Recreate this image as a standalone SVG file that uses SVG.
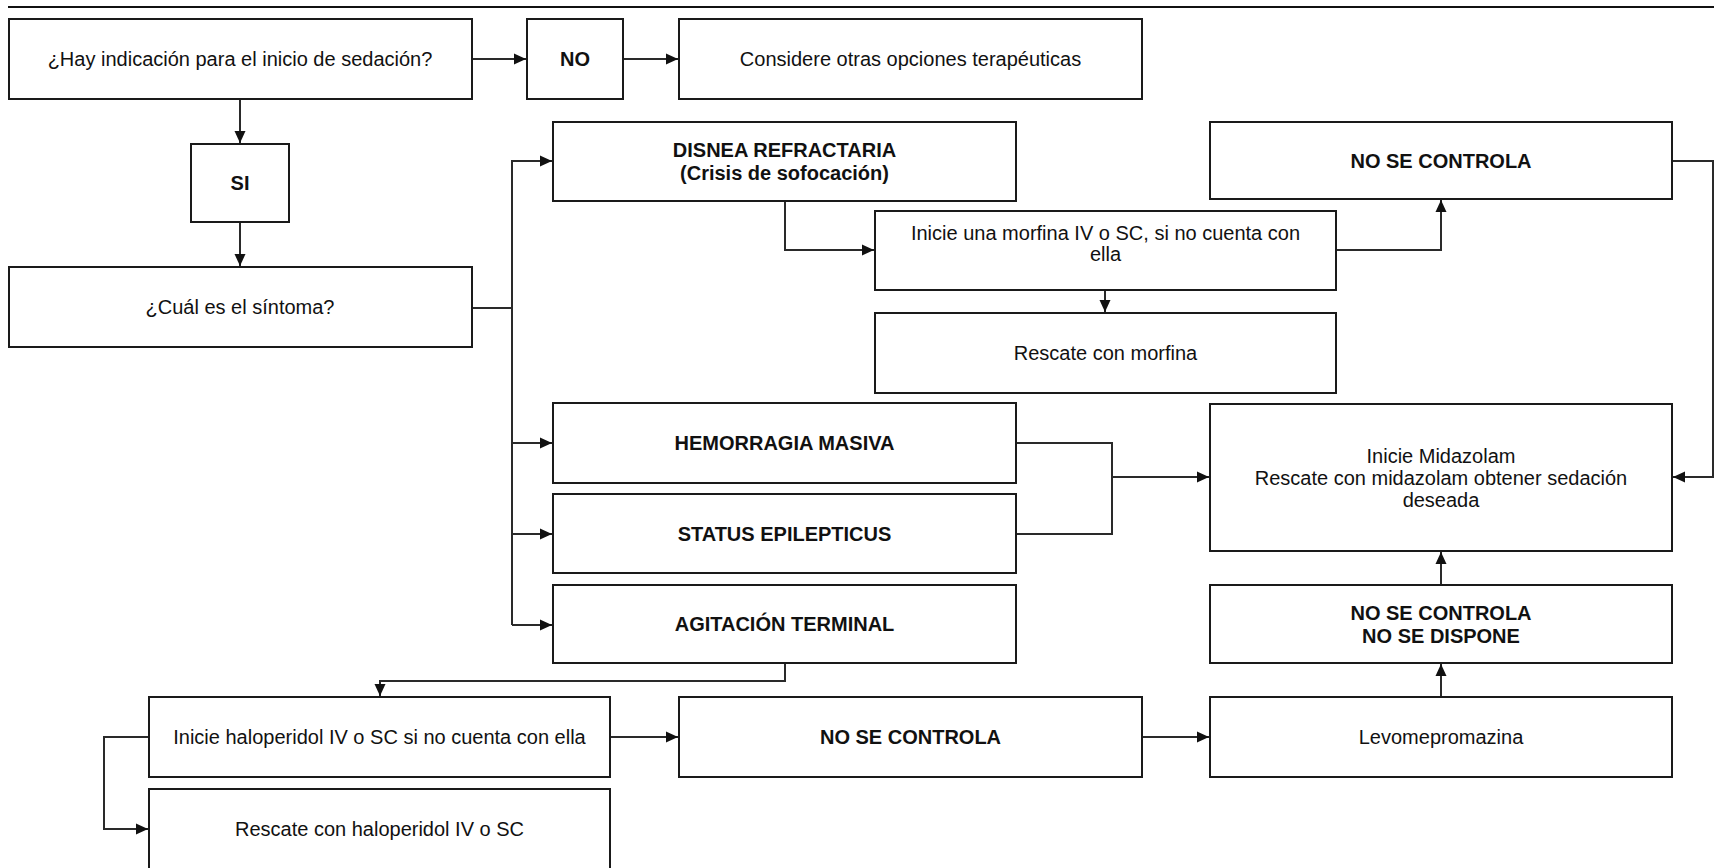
<svg xmlns="http://www.w3.org/2000/svg" width="1715" height="868" viewBox="0 0 1715 868">
<style>
  .box { fill: #ffffff; stroke: #1a1a1a; stroke-width: 2; }
  .t { font-family: "Liberation Sans", Arial, sans-serif; font-size: 20px; fill: #111; text-anchor: middle; }
  .b { font-weight: bold; }
  .c { fill: none; stroke: #2a2a2a; stroke-width: 2; }
</style>
<defs>
  <marker id="arr" markerWidth="13" markerHeight="12" refX="12" refY="6" orient="auto" markerUnits="userSpaceOnUse">
    <path d="M0,0.5 L12,6 L0,11.5 z" fill="#111"/>
  </marker>
</defs>
<rect width="1715" height="868" fill="#ffffff"/>
<line x1="8" y1="7" x2="1714" y2="7" stroke="#111" stroke-width="2"/>

<g id="connectors">
  <path class="c" d="M472,59 H526" marker-end="url(#arr)"/>
  <path class="c" d="M623,59 H678" marker-end="url(#arr)"/>
  <path class="c" d="M240,99 V143" marker-end="url(#arr)"/>
  <path class="c" d="M240,222 V266" marker-end="url(#arr)"/>
  <path class="c" d="M472,308 H512 V625"/>
  <path class="c" d="M512,308 V161 H552" marker-end="url(#arr)"/>
  <path class="c" d="M512,443 H552" marker-end="url(#arr)"/>
  <path class="c" d="M512,534 H552" marker-end="url(#arr)"/>
  <path class="c" d="M512,625 H552" marker-end="url(#arr)"/>
  <path class="c" d="M785,201 V250 H874" marker-end="url(#arr)"/>
  <path class="c" d="M1336,250 H1441 V200" marker-end="url(#arr)"/>
  <path class="c" d="M1105,290 V312" marker-end="url(#arr)"/>
  <path class="c" d="M1672,161 H1713 V477 H1673" marker-end="url(#arr)"/>
  <path class="c" d="M1016,443 H1112 V534 H1016"/>
  <path class="c" d="M1112,477 H1209" marker-end="url(#arr)"/>
  <path class="c" d="M1441,585 V552" marker-end="url(#arr)"/>
  <path class="c" d="M1441,697 V664" marker-end="url(#arr)"/>
  <path class="c" d="M785,663 V681 H380 V696" marker-end="url(#arr)"/>
  <path class="c" d="M610,737 H678" marker-end="url(#arr)"/>
  <path class="c" d="M1142,737 H1209" marker-end="url(#arr)"/>
  <path class="c" d="M149,737 H104 V829 H148" marker-end="url(#arr)"/>
</g>

<g id="n_indicacion">
  <rect class="box" x="9" y="19" width="463" height="80"/>
  <text class="t" x="240" y="66">¿Hay indicación para el inicio de sedación?</text>
</g>
<g id="n_no">
  <rect class="box" x="527" y="19" width="96" height="80"/>
  <text class="t b" x="575" y="66">NO</text>
</g>
<g id="n_considere">
  <rect class="box" x="679" y="19" width="463" height="80"/>
  <text class="t" x="910.5" y="66">Considere otras opciones terapéuticas</text>
</g>
<g id="n_si">
  <rect class="box" x="191" y="144" width="98" height="78"/>
  <text class="t b" x="240" y="190">SI</text>
</g>
<g id="n_sintoma">
  <rect class="box" x="9" y="267" width="463" height="80"/>
  <text class="t" x="240" y="314">¿Cuál es el síntoma?</text>
</g>
<g id="n_disnea">
  <rect class="box" x="553" y="122" width="463" height="79"/>
  <text class="t b" x="784.5" y="157">DISNEA REFRACTARIA</text>
  <text class="t b" x="784.5" y="180">(Crisis de sofocación)</text>
</g>
<g id="n_nocontrola1">
  <rect class="box" x="1210" y="122" width="462" height="77"/>
  <text class="t b" x="1441" y="168">NO SE CONTROLA</text>
</g>
<g id="n_morfina">
  <rect class="box" x="875" y="211" width="461" height="79"/>
  <text class="t" x="1105.5" y="240">Inicie una morfina IV o SC, si no cuenta con</text>
  <text class="t" x="1105.5" y="261">ella</text>
</g>
<g id="n_rescate_morfina">
  <rect class="box" x="875" y="313" width="461" height="80"/>
  <text class="t" x="1105.5" y="360">Rescate con morfina</text>
</g>
<g id="n_hemorragia">
  <rect class="box" x="553" y="403" width="463" height="80"/>
  <text class="t b" x="784.5" y="450">HEMORRAGIA MASIVA</text>
</g>
<g id="n_status">
  <rect class="box" x="553" y="494" width="463" height="79"/>
  <text class="t b" x="784.5" y="541">STATUS EPILEPTICUS</text>
</g>
<g id="n_agitacion">
  <rect class="box" x="553" y="585" width="463" height="78"/>
  <text class="t b" x="784.5" y="631">AGITACIÓN TERMINAL</text>
</g>
<g id="n_midazolam">
  <rect class="box" x="1210" y="404" width="462" height="147"/>
  <text class="t" x="1441" y="463">Inicie Midazolam</text>
  <text class="t" x="1441" y="485">Rescate con midazolam obtener sedación</text>
  <text class="t" x="1441" y="507">deseada</text>
</g>
<g id="n_nodispone">
  <rect class="box" x="1210" y="585" width="462" height="78"/>
  <text class="t b" x="1441" y="620">NO SE CONTROLA</text>
  <text class="t b" x="1441" y="643">NO SE DISPONE</text>
</g>
<g id="n_levo">
  <rect class="box" x="1210" y="697" width="462" height="80"/>
  <text class="t" x="1441" y="744">Levomepromazina</text>
</g>
<g id="n_haloperidol">
  <rect class="box" x="149" y="697" width="461" height="80"/>
  <text class="t" x="379.5" y="744">Inicie haloperidol IV o SC si no cuenta con ella</text>
</g>
<g id="n_nocontrola2">
  <rect class="box" x="679" y="697" width="463" height="80"/>
  <text class="t b" x="910.5" y="744">NO SE CONTROLA</text>
</g>
<g id="n_rescate_halo">
  <rect class="box" x="149" y="789" width="461" height="82"/>
  <text class="t" x="379.5" y="836">Rescate con haloperidol IV o SC</text>
</g>
</svg>
